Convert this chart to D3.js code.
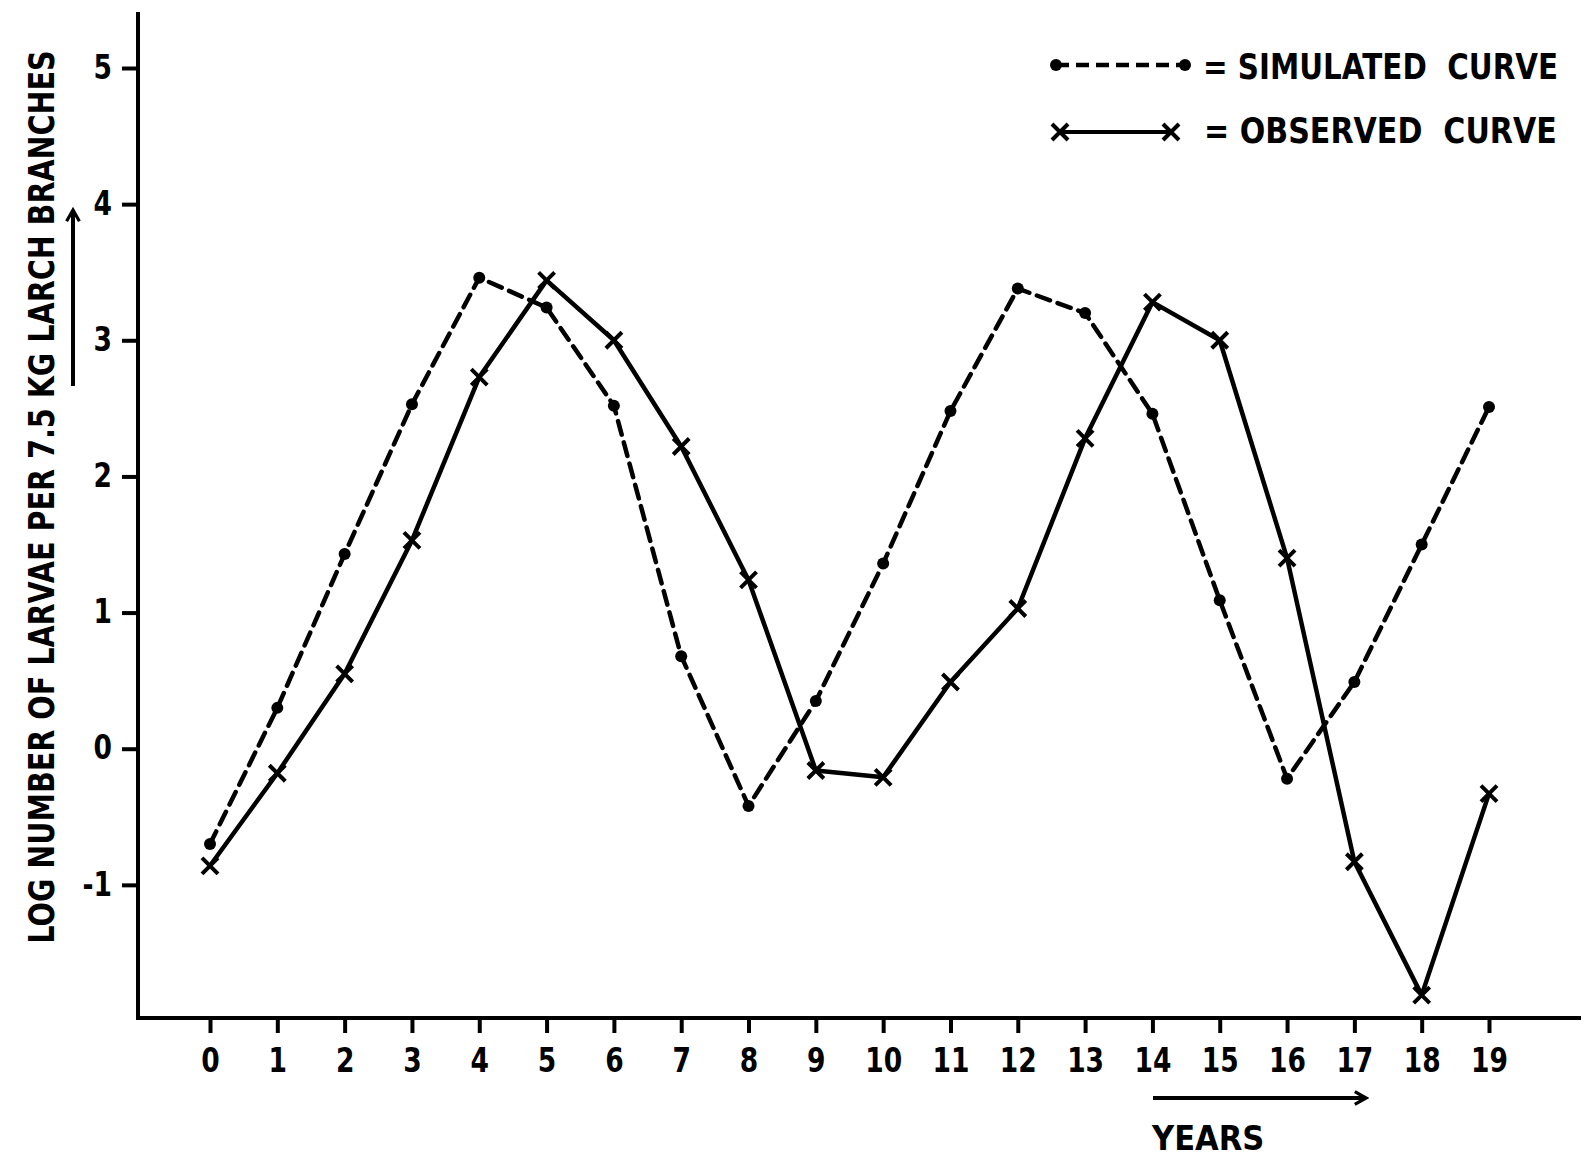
<!DOCTYPE html>
<html>
<head>
<meta charset="utf-8">
<script src="https://cdn.jsdelivr.net/npm/d3@7"></script>
<style>
  body { margin: 0; background: #fff; }
  svg text { font-family: "DejaVu Sans", sans-serif; font-weight: bold; fill: #000; }
</style>
</head>
<body>
<svg id="chart" width="1584" height="1159"></svg>
<script>
// years on the x axis
let years = d3.range(0, 20);
let yTicks = [-1, 0, 1, 2, 3, 4, 5];

// log number of larvae
let simulated = [-0.70, 0.30, 1.43, 2.53, 3.46, 3.24, 2.52, 0.68, -0.42, 0.35,
                 1.36, 2.48, 3.38, 3.20, 2.46, 1.09, -0.22, 0.49, 1.50, 2.51];
let observed  = [-0.86, -0.18, 0.55, 1.53, 2.73, 3.44, 3.00, 2.22, 1.24, -0.16,
                 -0.21, 0.49, 1.03, 2.28, 3.28, 3.00, 1.40, -0.83, -1.81, -0.33];

let legendLabels = ['= SIMULATED  CURVE', '= OBSERVED  CURVE'];

let svg = d3.select('#chart');

let x = d3.scaleLinear().domain([0, 19]).range([210, 1489]);
let y = d3.scaleLinear().domain([-2, 5]).range([1021, 68]);

let axisLeftX = 138,
    axisBottomY = 1018,
    narrow = 0.78;

let plainInt = function (d) { return String(d); };

// axes
let xAxis = d3.axisBottom(x)
  .tickValues(years)
  .tickFormat(plainInt)
  .tickSize(15);

let gx = svg.append('g')
  .attr('class', 'x-axis')
  .attr('transform', 'translate(0,' + axisBottomY + ')')
  .call(xAxis);
gx.select('.domain').remove();
gx.selectAll('line').attr('stroke', '#000').attr('stroke-width', 4);
gx.selectAll('text')
  .attr('y', 54)
  .attr('dy', 0)
  .attr('transform', 'scale(' + narrow + ',1)')
  .style('font-size', '34px');

let yAxis = d3.axisLeft(y)
  .tickValues(yTicks)
  .tickFormat(plainInt)
  .tickSize(16);

let gy = svg.append('g')
  .attr('class', 'y-axis')
  .attr('transform', 'translate(' + axisLeftX + ',0)')
  .call(yAxis);
gy.select('.domain').remove();
gy.selectAll('line').attr('stroke', '#000').attr('stroke-width', 4);
gy.selectAll('text')
  .attr('x', -26 / narrow)
  .attr('dy', '0.3em')
  .attr('transform', 'scale(' + narrow + ',1)')
  .style('font-size', '34px');

svg.append('path')
  .attr('d', 'M' + axisLeftX + ',' + 12 + 'V' + axisBottomY + 'H' + 1581)
  .attr('fill', 'none')
  .attr('stroke', '#000')
  .attr('stroke-width', 4);

// y label + arrow
svg.append('text')
  .attr('transform', 'translate(54,' + 497 + ') rotate(-90) scale(0.795,1)')
  .attr('text-anchor', 'middle')
  .style('font-size', '36px')
  .text('LOG NUMBER OF LARVAE PER 7.5 KG LARCH BRANCHES');

let defs = svg.append('defs');
defs.append('marker')
  .attr('id', 'arrow')
  .attr('viewBox', '0 0 10 10')
  .attr('refX', 8).attr('refY', 5)
  .attr('markerWidth', 4).attr('markerHeight', 4)
  .attr('orient', 'auto')
  .append('path')
  .attr('d', 'M1,1 L8,5 L1,9')
  .attr('fill', 'none')
  .attr('stroke', '#000')
  .attr('stroke-width', 2);

svg.append('line')
  .attr('x1', 73).attr('y1', 386)
  .attr('x2', 73).attr('y2', 210)
  .attr('stroke', '#000').attr('stroke-width', 4)
  .attr('marker-end', 'url(#arrow)');

// x label + arrow
svg.append('line')
  .attr('x1', 1153).attr('y1', 1098)
  .attr('x2', 1366).attr('y2', 1098)
  .attr('stroke', '#000').attr('stroke-width', 4)
  .attr('marker-end', 'url(#arrow)');

svg.append('text')
  .attr('transform', 'translate(1152,1150) scale(0.9,1)')
  .style('font-size', '34px')
  .text('YEARS');

// lines
let line = function (values) {
  return d3.line()
    .x(function (d, i) { return x(years[i]); })
    .y(function (d) { return y(d); })(values);
};

svg.append('path')
  .attr('class', 'simulated')
  .attr('d', line(simulated))
  .attr('fill', 'none')
  .attr('stroke', '#000')
  .attr('stroke-width', 4.5)
  .attr('stroke-dasharray', '14,8')
  .attr('stroke-linecap', 'round');

svg.append('path')
  .attr('class', 'observed')
  .attr('d', line(observed))
  .attr('fill', 'none')
  .attr('stroke', '#000')
  .attr('stroke-width', 4.5)
  .attr('stroke-linejoin', 'round');

let drawDot = function (sel, cx, cy) {
  sel.append('circle')
    .attr('cx', cx).attr('cy', cy).attr('r', 6)
    .attr('fill', '#000');
};

let drawCross = function (sel, cx, cy) {
  let s = 8;
  sel.append('path')
    .attr('d', 'M' + (cx - s) + ',' + (cy - s) + 'L' + (cx + s) + ',' + (cy + s) +
               'M' + (cx - s) + ',' + (cy + s) + 'L' + (cx + s) + ',' + (cy - s))
    .attr('stroke', '#000')
    .attr('stroke-width', 4);
};

let marks = svg.append('g').attr('class', 'marks');
simulated.forEach(function (d, i) { drawDot(marks, x(years[i]), y(d)); });
observed.forEach(function (d, i) { drawCross(marks, x(years[i]), y(d)); });

// legend
let legend = svg.append('g').attr('class', 'legend');
legend.append('line')
  .attr('x1', 1056).attr('y1', 65).attr('x2', 1185).attr('y2', 65)
  .attr('stroke', '#000').attr('stroke-width', 4.5)
  .attr('stroke-dasharray', '13,7');
drawDot(legend, 1056, 65);
drawDot(legend, 1185, 65);

legend.append('line')
  .attr('x1', 1060).attr('y1', 132).attr('x2', 1171).attr('y2', 132)
  .attr('stroke', '#000').attr('stroke-width', 4);
drawCross(legend, 1060, 132);
drawCross(legend, 1171, 132);

let legendPos = [{x: 1203, y: 79, s: 0.84}, {x: 1204, y: 143, s: 0.86}];

legend.selectAll('text.label')
  .data(legendLabels)
  .enter()
  .append('text')
  .attr('class', 'label')
  .attr('transform', function (d, i) {
    let p = legendPos[i];
    return 'translate(' + p.x + ',' + p.y + ') scale(' + p.s + ',1)';
  })
  .style('font-size', '35px')
  .style('white-space', 'pre')
  .text(function (d) { return d; });
</script>
</body>
</html>
